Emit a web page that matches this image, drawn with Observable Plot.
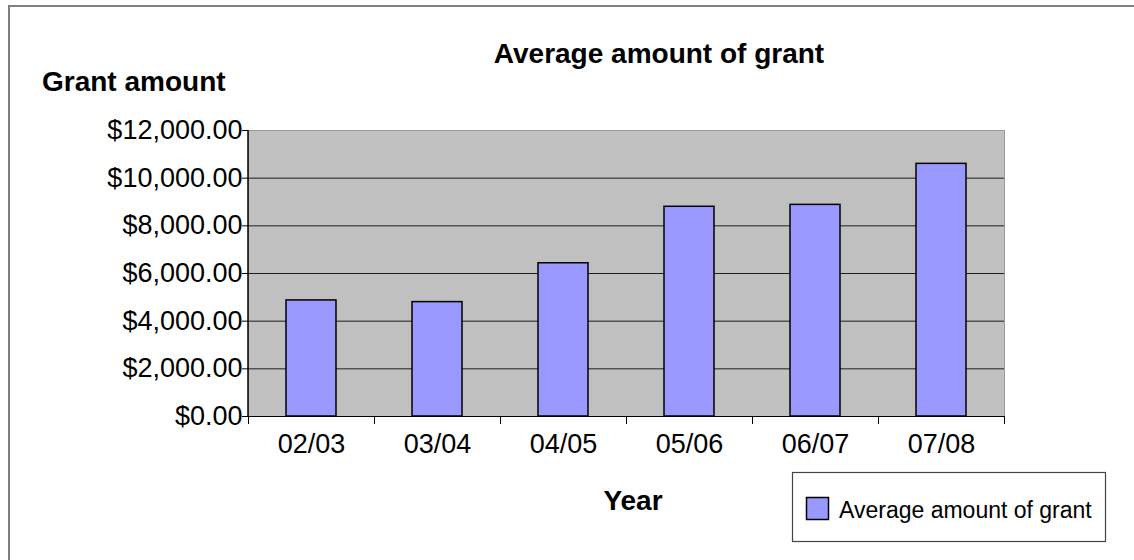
<!DOCTYPE html>
<html>
<head>
<meta charset="utf-8">
<script src="https://cdn.jsdelivr.net/npm/d3@7"></script>
<script src="https://cdn.jsdelivr.net/npm/@observablehq/plot@0.6"></script>
<style>
  html, body { margin: 0; padding: 0; background: #fff; }
  #wrap { position: relative; width: 1134px; height: 560px; overflow: hidden; font-family: "Liberation Sans", Arial, sans-serif; }
  #wrap > svg { position: absolute; left: 0; top: 0; }
</style>
</head>
<body>
<div id="wrap"></div>
<script>
const years = ["02/03", "03/04", "04/05", "05/06", "06/07", "07/08"];
const grants = [4870, 4800, 6430, 8800, 8880, 10600];
const yTicks = [0, 2000, 4000, 6000, 8000, 10000, 12000];
const gridTicks = [2000, 4000, 6000, 8000, 10000];
const seriesName = "Average amount of grant";
const chartTitle = "Average amount of grant";
const yTitle = "Grant amount";
const xTitle = "Year";

const data = years.map((y, i) => ({year: y, value: grants[i]}));

const W = 1134, H = 560;
const mL = 248, mR = 130, mT = 130, mB = 144;
const halfStep = (W - mL - mR) / years.length / 2;
const fmt = d3.format("$,.2f");

const chart = Plot.plot({
  width: W,
  height: H,
  marginLeft: mL,
  marginRight: mR,
  marginTop: mT,
  marginBottom: mB,
  style: {fontFamily: "Liberation Sans, Arial, sans-serif", fontSize: "27px", color: "#000", background: "transparent", overflow: "visible"},
  x: {type: "band", domain: years, paddingInner: 0.6, paddingOuter: 0.3, label: null},
  y: {domain: [0, 12000], label: null},
  marks: [
    Plot.frame({fill: "#c0c0c0", stroke: "#9a9a9a"}),
    Plot.gridY(gridTicks, {stroke: "#000", strokeOpacity: 0.85}),
    Plot.barY(data, {x: "year", y: "value", fill: "#9999ff", stroke: "#000", strokeWidth: 1.5}),
    Plot.ruleY([0], {stroke: "#000"}),
    Plot.axisY({ticks: yTicks, tickFormat: fmt, tickSize: 6, tickPadding: 0, stroke: "#000", fill: "#000", label: null}),
    Plot.axisX({tickSize: 8, text: null, dx: -halfStep, stroke: "#000", label: null}),
    Plot.axisX([years[years.length - 1]], {tickSize: 8, text: null, dx: halfStep, stroke: "#000", label: null}),
    Plot.axisX({tickSize: 0, tickPadding: 17, fill: "#000", label: null})
  ]
});

const wrap = document.getElementById("wrap");
wrap.appendChild(chart);

// left axis line
const left = d3.select(chart).append("line")
  .attr("x1", mL).attr("x2", mL).attr("y1", mT).attr("y2", H - mB)
  .attr("stroke", "#000").attr("stroke-width", 1.5);

// overlay for titles, legend and outer frame
const ov = d3.select(wrap).append("svg")
  .attr("width", W).attr("height", H)
  .style("font-family", "Liberation Sans, Arial, sans-serif");

ov.append("rect").attr("x", 9).attr("y", 6).attr("width", 1300).attr("height", 700)
  .attr("fill", "none").attr("stroke", "#808080").attr("stroke-width", 2);

ov.append("text").attr("x", 659).attr("y", 63).attr("text-anchor", "middle")
  .attr("font-size", 28).attr("font-weight", "bold").text(chartTitle);

ov.append("text").attr("x", 42).attr("y", 91)
  .attr("font-size", 28).attr("font-weight", "bold").text(yTitle);

ov.append("text").attr("x", 633).attr("y", 510).attr("text-anchor", "middle")
  .attr("font-size", 28).attr("font-weight", "bold").text(xTitle);

const lg = ov.append("g");
lg.append("rect").attr("x", 792.5).attr("y", 472.5).attr("width", 313).attr("height", 69)
  .attr("fill", "#fff").attr("stroke", "#444").attr("stroke-width", 1.2);
lg.append("rect").attr("x", 806.5).attr("y", 497.5).attr("width", 22).attr("height", 22)
  .attr("fill", "#9999ff").attr("stroke", "#000").attr("stroke-width", 1.5);
lg.append("text").attr("x", 839).attr("y", 518).attr("font-size", 23).text(seriesName);
</script>
</body>
</html>
